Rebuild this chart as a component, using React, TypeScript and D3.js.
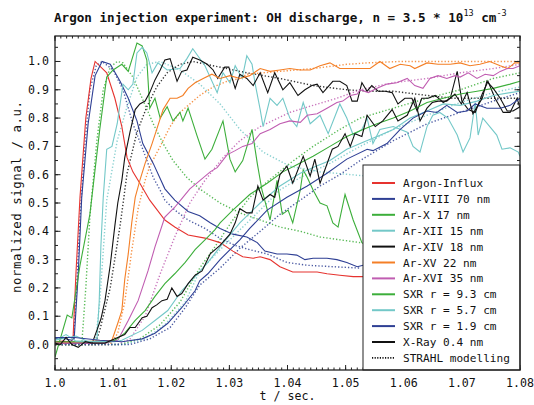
import * as d3 from "d3";

type Pt = [number, number];

// measured signals (t in s, normalized value)
const argonInflux: Pt[] = [
  [1.0, 0.01], [1.0014, 0.012], [1.0026, 0.008], [1.0031, 0.02], [1.0036, 0.25], [1.0043, 0.52],
  [1.0053, 0.8], [1.0062, 0.94], [1.0069, 1.0], [1.0089, 0.96], [1.0103, 0.87], [1.0115, 0.77],
  [1.0124, 0.66], [1.0134, 0.61], [1.0146, 0.57], [1.0163, 0.51], [1.0189, 0.44], [1.0206, 0.415],
  [1.0229, 0.387], [1.0258, 0.376], [1.0284, 0.36], [1.0306, 0.33], [1.0323, 0.31], [1.0341, 0.305],
  [1.0353, 0.31], [1.037, 0.3], [1.0387, 0.275], [1.0409, 0.256], [1.0434, 0.256], [1.0451, 0.256],
  [1.0468, 0.25], [1.049, 0.245], [1.0513, 0.24], [1.053, 0.24], [1.056, 0.235],
];
const arVIII: Pt[] = [
  [1.0, 0.02], [1.0014, 0.022], [1.0029, 0.015], [1.0033, 0.02], [1.004, 0.25], [1.0046, 0.52],
  [1.0057, 0.78], [1.0069, 0.95], [1.0081, 1.0], [1.0095, 0.99], [1.0112, 0.93], [1.0126, 0.87],
  [1.0141, 0.79], [1.0151, 0.71], [1.0169, 0.64], [1.0189, 0.55], [1.0206, 0.51], [1.0229, 0.47],
  [1.0249, 0.455], [1.0267, 0.43], [1.0284, 0.41], [1.0306, 0.39], [1.033, 0.38], [1.0348, 0.36],
  [1.0361, 0.33], [1.0382, 0.32], [1.0399, 0.32], [1.0416, 0.316], [1.043, 0.3], [1.0444, 0.305],
  [1.0468, 0.305], [1.0485, 0.3], [1.0502, 0.29], [1.052, 0.275], [1.053, 0.28], [1.056, 0.275],
];
const arX: Pt[] = [
  [1.0, -0.044], [1.0021, 0.104], [1.0029, 0.094], [1.0043, 0.28], [1.006, 0.46], [1.0077, 0.76],
  [1.0089, 0.945], [1.01, 0.97], [1.0115, 0.99], [1.0126, 0.965], [1.0141, 1.065], [1.015, 1.055],
  [1.0158, 1.005], [1.0163, 0.835], [1.0172, 0.87], [1.0181, 0.8], [1.0193, 0.84], [1.0203, 0.79],
  [1.0215, 0.82], [1.022, 0.79], [1.0229, 0.835], [1.0244, 0.74], [1.0258, 0.655], [1.027, 0.69],
  [1.0289, 0.79], [1.0301, 0.655], [1.031, 0.61], [1.0323, 0.65], [1.0339, 0.76], [1.0348, 0.64],
  [1.0356, 0.546], [1.037, 0.44], [1.0382, 0.58], [1.0391, 0.46], [1.0401, 0.475], [1.0409, 0.43],
  [1.0422, 0.546], [1.0427, 0.617], [1.0434, 0.59], [1.0444, 0.546], [1.0456, 0.5], [1.0468, 0.49],
  [1.0478, 0.43], [1.0487, 0.415], [1.0499, 0.53], [1.0513, 0.44], [1.0528, 0.36], [1.055, 0.33],
];
const arXII: Pt[] = [
  [1.0, 0.015], [1.0036, 0.03], [1.0057, 0.01], [1.0072, 0.01], [1.0076, 0.15], [1.0079, 0.35],
  [1.0083, 0.52], [1.0089, 0.69], [1.0098, 0.7], [1.0107, 0.78], [1.0117, 0.92], [1.0126, 0.9],
  [1.0134, 0.92], [1.0141, 1.03], [1.015, 1.05], [1.0158, 1.03], [1.0167, 0.96], [1.0177, 0.995],
  [1.0193, 0.97], [1.0215, 0.975], [1.0227, 1.01], [1.0237, 1.045], [1.0258, 0.985], [1.0279, 0.89],
  [1.0289, 0.96], [1.0301, 0.925], [1.031, 0.985], [1.0322, 0.94], [1.033, 1.02], [1.0339, 0.99],
  [1.0344, 0.925], [1.0353, 0.83], [1.0358, 0.77], [1.037, 0.87], [1.0382, 0.845], [1.0392, 0.87],
  [1.0404, 0.8], [1.0416, 0.77], [1.0427, 0.855], [1.0439, 0.78], [1.0456, 0.81], [1.047, 0.745],
  [1.049, 0.85], [1.0502, 0.8], [1.0513, 0.74], [1.0528, 0.76], [1.0537, 0.8], [1.0547, 0.71],
  [1.0559, 0.76], [1.0582, 0.77], [1.0606, 0.75], [1.0616, 0.7], [1.0628, 0.68], [1.064, 0.77],
  [1.065, 0.81], [1.0662, 0.82], [1.0676, 0.8], [1.0692, 0.74], [1.0702, 0.68], [1.0714, 0.73],
  [1.0723, 0.855], [1.0728, 0.74], [1.0736, 0.8], [1.0748, 0.77], [1.076, 0.74], [1.0769, 0.69],
  [1.0783, 0.695], [1.0797, 0.68], [1.08, 0.665],
];
const arXIV: Pt[] = [
  [1.0, 0.005], [1.0064, 0.005], [1.0072, 0.05], [1.0079, 0.09], [1.0086, 0.155], [1.0095, 0.28],
  [1.0103, 0.42], [1.0108, 0.5], [1.0115, 0.58], [1.012, 0.66], [1.0129, 0.75], [1.0138, 0.83],
  [1.0146, 0.85], [1.0155, 0.86], [1.0163, 0.89], [1.0172, 0.935], [1.0181, 0.97], [1.0189, 1.005],
  [1.0198, 1.01], [1.021, 0.93], [1.0218, 0.965], [1.0227, 0.97], [1.0237, 1.015], [1.0249, 1.005],
  [1.0262, 0.99], [1.0272, 0.97], [1.028, 0.94], [1.0292, 0.98], [1.0299, 0.98], [1.031, 0.905],
  [1.0318, 0.955], [1.033, 0.94], [1.0341, 0.915], [1.0353, 0.96], [1.0366, 0.89], [1.0378, 0.96],
  [1.0392, 0.9], [1.0404, 0.925], [1.0418, 0.88], [1.043, 0.9], [1.0442, 0.915], [1.0451, 0.92],
  [1.0461, 0.89], [1.0478, 0.93], [1.049, 0.93], [1.0502, 0.915], [1.0511, 0.86], [1.052, 0.86],
  [1.0528, 0.925], [1.0537, 0.895], [1.0545, 0.915], [1.0556, 0.895], [1.0568, 0.895], [1.058, 0.89],
  [1.059, 0.85], [1.0602, 0.87], [1.0614, 0.87], [1.0623, 0.825], [1.0631, 0.87], [1.0642, 0.87],
  [1.0654, 0.88], [1.0668, 0.855], [1.068, 0.87], [1.0692, 0.965], [1.07, 0.86], [1.0711, 0.83],
  [1.0723, 0.82], [1.0735, 0.885], [1.0745, 0.93], [1.0757, 0.87], [1.0771, 0.82], [1.0783, 0.82],
  [1.0795, 0.87], [1.08, 0.835],
];
const arXV: Pt[] = [
  [1.0, 0.005], [1.0098, 0.015], [1.0108, 0.075], [1.0115, 0.12], [1.012, 0.23], [1.0126, 0.32],
  [1.0132, 0.43], [1.0138, 0.52], [1.0146, 0.58], [1.0155, 0.64], [1.0167, 0.71], [1.0175, 0.76],
  [1.0186, 0.83], [1.0198, 0.87], [1.021, 0.87], [1.022, 0.88], [1.0229, 0.905], [1.0241, 0.925],
  [1.0255, 0.94], [1.027, 0.955], [1.0284, 0.94], [1.0301, 0.95], [1.0318, 0.94], [1.0335, 0.95],
  [1.0353, 0.975], [1.037, 0.965], [1.0387, 0.97], [1.0404, 0.975], [1.0422, 0.97], [1.0439, 0.97],
  [1.0456, 0.985], [1.0473, 0.995], [1.049, 0.975], [1.0508, 0.975], [1.0525, 0.975], [1.0542, 0.975],
  [1.0559, 1.0], [1.0576, 0.975], [1.0594, 0.99], [1.0611, 0.985], [1.0619, 0.975], [1.064, 0.995],
  [1.0659, 0.99], [1.068, 0.99], [1.0697, 0.995], [1.0714, 0.985], [1.0731, 0.99], [1.0748, 1.0],
  [1.0766, 0.985], [1.0779, 0.975], [1.0791, 0.995], [1.08, 0.995],
];
const arXVI: Pt[] = [
  [1.0, 0.005], [1.0086, 0.005], [1.0108, 0.015], [1.0126, 0.085], [1.0143, 0.155], [1.016, 0.26],
  [1.0172, 0.345], [1.0189, 0.45], [1.0206, 0.485], [1.022, 0.52], [1.0232, 0.55], [1.0244, 0.57],
  [1.0267, 0.61], [1.0279, 0.625], [1.0296, 0.67], [1.031, 0.685], [1.0323, 0.7], [1.0339, 0.71],
  [1.0353, 0.745], [1.037, 0.76], [1.0387, 0.78], [1.0404, 0.79], [1.0422, 0.785], [1.0434, 0.81],
  [1.0451, 0.815], [1.0468, 0.835], [1.0485, 0.855], [1.0495, 0.86], [1.0508, 0.88], [1.052, 0.885],
  [1.0525, 0.9], [1.0539, 0.89], [1.0554, 0.905], [1.0571, 0.92], [1.0588, 0.925], [1.0606, 0.94],
  [1.0619, 0.915], [1.0633, 0.905], [1.0645, 0.94], [1.0659, 0.95], [1.0674, 0.94], [1.0688, 0.95],
  [1.0697, 0.945], [1.0711, 0.96], [1.0726, 0.94], [1.074, 0.955], [1.0754, 0.95], [1.0766, 0.965],
  [1.0778, 0.975], [1.0788, 0.975], [1.08, 0.985],
];
const sxr93: Pt[] = [
  [1.0, 0.01], [1.0095, 0.01], [1.0103, 0.015], [1.012, 0.04], [1.0138, 0.085], [1.0155, 0.12],
  [1.0172, 0.17], [1.0189, 0.215], [1.0206, 0.25], [1.0224, 0.29], [1.0241, 0.335], [1.0258, 0.37],
  [1.0275, 0.405], [1.0284, 0.43], [1.0306, 0.475], [1.0335, 0.53], [1.0365, 0.57], [1.0392, 0.61],
  [1.0416, 0.635], [1.0444, 0.665], [1.0473, 0.7], [1.0502, 0.735], [1.053, 0.76], [1.0554, 0.78],
  [1.0582, 0.8], [1.0611, 0.825], [1.064, 0.855], [1.0668, 0.87], [1.0697, 0.885], [1.0726, 0.895],
  [1.0754, 0.905], [1.0783, 0.92], [1.08, 0.93],
];
const sxr57: Pt[] = [
  [1.0, 0.015], [1.0019, 0.035], [1.0036, 0.012], [1.0103, 0.01], [1.0115, 0.015], [1.015, 0.05],
  [1.0172, 0.085], [1.0194, 0.12], [1.0218, 0.19], [1.0241, 0.24], [1.0263, 0.29], [1.0284, 0.345],
  [1.0318, 0.43], [1.0353, 0.5], [1.0387, 0.56], [1.0422, 0.605], [1.0444, 0.625], [1.0473, 0.65],
  [1.0502, 0.69], [1.053, 0.715], [1.0554, 0.735], [1.0582, 0.76], [1.0611, 0.8], [1.064, 0.825],
  [1.0668, 0.85], [1.0697, 0.845], [1.0726, 0.86], [1.0754, 0.88], [1.0783, 0.89], [1.08, 0.895],
];
const sxr19: Pt[] = [
  [1.0, 0.025], [1.0034, 0.025], [1.0077, 0.015], [1.0115, 0.01], [1.015, 0.02], [1.0172, 0.04],
  [1.0194, 0.075], [1.0218, 0.13], [1.0241, 0.19], [1.0249, 0.225], [1.0263, 0.25], [1.0284, 0.3],
  [1.0318, 0.37], [1.0335, 0.41], [1.0365, 0.475], [1.0399, 0.52], [1.0434, 0.56], [1.0468, 0.605],
  [1.0502, 0.655], [1.0537, 0.69], [1.0547, 0.685], [1.0571, 0.71], [1.0594, 0.76], [1.0616, 0.8],
  [1.064, 0.825], [1.0657, 0.82], [1.0674, 0.845], [1.0692, 0.82], [1.0709, 0.825], [1.0723, 0.85],
  [1.0743, 0.835], [1.0766, 0.835], [1.0783, 0.845], [1.08, 0.87],
];
const xRay: Pt[] = [
  [1.0, 0.005], [1.0009, 0.0], [1.0019, 0.025], [1.0029, 0.0], [1.004, -0.01], [1.0052, 0.01],
  [1.0064, 0.005], [1.0086, 0.005], [1.0103, 0.02], [1.012, 0.035], [1.0129, 0.06], [1.0138, 0.06],
  [1.015, 0.095], [1.0158, 0.1], [1.0167, 0.13], [1.0175, 0.14], [1.0184, 0.155], [1.0193, 0.16],
  [1.0201, 0.2], [1.021, 0.17], [1.0218, 0.18], [1.0229, 0.215], [1.0241, 0.245], [1.0253, 0.26],
  [1.0267, 0.32], [1.0284, 0.35], [1.0301, 0.39], [1.031, 0.43], [1.0318, 0.48], [1.033, 0.465],
  [1.0339, 0.465], [1.0349, 0.56], [1.0358, 0.51], [1.037, 0.53], [1.0378, 0.52], [1.0387, 0.6],
  [1.0399, 0.63], [1.0409, 0.57], [1.0427, 0.665], [1.0439, 0.595], [1.0447, 0.655], [1.0456, 0.57],
  [1.0477, 0.69], [1.0487, 0.7], [1.0499, 0.745], [1.0508, 0.7], [1.0516, 0.745], [1.0528, 0.735],
  [1.0537, 0.81], [1.0551, 0.77], [1.0564, 0.79], [1.058, 0.83], [1.059, 0.79], [1.0606, 0.81],
  [1.0619, 0.87], [1.0628, 0.79], [1.064, 0.835], [1.0649, 0.855], [1.0659, 0.86], [1.0674, 0.86],
  [1.0688, 0.885], [1.0699, 0.85], [1.0709, 0.89], [1.0719, 0.815], [1.0735, 0.87], [1.0743, 0.93],
  [1.0754, 0.905], [1.0766, 0.87], [1.0778, 0.825], [1.0788, 0.825], [1.08, 0.84],
];

// STRAHL model curves
const arVIIIModel: Pt[] = [
  [1.0, 0.0], [1.0031, 0.0], [1.0036, 0.15], [1.0043, 0.45], [1.0052, 0.72], [1.006, 0.9],
  [1.0071, 0.985], [1.0081, 1.0], [1.01, 0.97], [1.0117, 0.9], [1.0134, 0.78], [1.0151, 0.69],
  [1.0169, 0.59], [1.0181, 0.545], [1.0189, 0.51], [1.0206, 0.475], [1.0229, 0.44], [1.0258, 0.41],
  [1.0284, 0.375], [1.031, 0.35], [1.0335, 0.335], [1.0365, 0.32], [1.0399, 0.29], [1.0434, 0.28],
  [1.0478, 0.275], [1.0525, 0.27],
];
const arXModel: Pt[] = [
  [1.0, 0.0], [1.0046, 0.0], [1.0053, 0.2], [1.006, 0.45], [1.0072, 0.72], [1.0083, 0.9],
  [1.0095, 0.98], [1.0107, 1.0], [1.0117, 0.995], [1.0134, 0.945], [1.0151, 0.865], [1.0169, 0.78],
  [1.0186, 0.71], [1.0203, 0.65], [1.0227, 0.59], [1.0249, 0.55], [1.0284, 0.5], [1.0318, 0.465],
  [1.0353, 0.44], [1.0387, 0.415], [1.0422, 0.4], [1.0456, 0.38], [1.049, 0.37], [1.0525, 0.36],
];
const arXIIModel: Pt[] = [
  [1.0, 0.0], [1.0069, 0.0], [1.0077, 0.15], [1.0089, 0.51], [1.0107, 0.72], [1.0124, 0.84],
  [1.0141, 0.945], [1.0158, 0.99], [1.0181, 1.0], [1.0215, 0.97], [1.0249, 0.92], [1.0284, 0.85],
  [1.0318, 0.76], [1.0358, 0.68], [1.0404, 0.63], [1.0456, 0.61], [1.0537, 0.595],
];
const arXIVModel: Pt[] = [
  [1.0, 0.0], [1.0069, 0.0], [1.0077, 0.05], [1.0095, 0.2], [1.0112, 0.42], [1.0124, 0.605],
  [1.0141, 0.75], [1.0158, 0.84], [1.0175, 0.91], [1.0193, 0.96], [1.0215, 0.99], [1.0237, 1.0],
  [1.0272, 0.985], [1.033, 0.96], [1.0387, 0.94], [1.0444, 0.915], [1.0502, 0.9], [1.0542, 0.895],
  [1.0582, 0.895], [1.064, 0.88], [1.0685, 0.87], [1.0754, 0.87], [1.08, 0.87],
];
const arXVModel: Pt[] = [
  [1.0, 0.0], [1.0095, 0.0], [1.0108, 0.04], [1.012, 0.15], [1.0132, 0.33], [1.0143, 0.48],
  [1.0155, 0.58], [1.0163, 0.63], [1.0181, 0.7], [1.0198, 0.77], [1.0215, 0.82], [1.0232, 0.85],
  [1.0249, 0.88], [1.0272, 0.91], [1.0296, 0.93], [1.0318, 0.94], [1.033, 0.955], [1.0387, 0.965],
  [1.0444, 0.975], [1.0502, 0.99], [1.0537, 0.995], [1.0594, 1.0], [1.0697, 1.0], [1.08, 1.0],
];
const arXVIModel: Pt[] = [
  [1.0, 0.0], [1.0108, 0.0], [1.0129, 0.02], [1.0155, 0.1], [1.0181, 0.25], [1.0206, 0.38],
  [1.0232, 0.5], [1.0258, 0.58], [1.0289, 0.66], [1.0318, 0.72], [1.0353, 0.77], [1.0404, 0.82],
  [1.0444, 0.845], [1.0485, 0.87], [1.0525, 0.9], [1.0582, 0.925], [1.064, 0.94], [1.0697, 0.96],
  [1.0754, 0.975], [1.08, 0.99],
];
const sxr93Model: Pt[] = [
  [1.0, 0.0], [1.0112, 0.0], [1.0146, 0.02], [1.0181, 0.07], [1.0215, 0.15], [1.0249, 0.27],
  [1.0275, 0.345], [1.0306, 0.44], [1.0335, 0.52], [1.0365, 0.575], [1.0404, 0.64], [1.0444, 0.7],
  [1.049, 0.76], [1.0525, 0.8], [1.0582, 0.835], [1.064, 0.87], [1.0697, 0.9], [1.0754, 0.94],
  [1.08, 0.96],
];
const sxr57Model: Pt[] = [
  [1.0, 0.0], [1.012, 0.0], [1.0155, 0.02], [1.0189, 0.07], [1.0224, 0.15], [1.0249, 0.26],
  [1.0284, 0.335], [1.0318, 0.405], [1.0353, 0.475], [1.0387, 0.546], [1.0422, 0.59], [1.0473, 0.64],
  [1.0525, 0.7], [1.0582, 0.76], [1.064, 0.81], [1.0697, 0.855], [1.0754, 0.89], [1.08, 0.91],
];
const sxr19Model: Pt[] = [
  [1.0, 0.0], [1.0129, 0.0], [1.0163, 0.02], [1.0198, 0.06], [1.0224, 0.13], [1.0249, 0.21],
  [1.0284, 0.27], [1.0318, 0.34], [1.0353, 0.4], [1.0387, 0.46], [1.0422, 0.51], [1.0456, 0.56],
  [1.049, 0.6], [1.0525, 0.65], [1.0582, 0.72], [1.064, 0.78], [1.0697, 0.82], [1.0754, 0.86],
  [1.08, 0.89],
];

const RED = "#e6332f";
const DBLUE = "#2e3f94";
const GREEN = "#3cae3a";
const CYAN = "#73c8c8";
const BLACK = "#111111";
const ORANGE = "#f47f26";
const MAGENTA = "#c05db1";

const models = [
  { data: arVIIIModel, color: DBLUE },
  { data: arXModel, color: GREEN },
  { data: arXIIModel, color: CYAN },
  { data: arXIVModel, color: BLACK },
  { data: arXVModel, color: ORANGE },
  { data: arXVIModel, color: MAGENTA },
  { data: sxr93Model, color: GREEN },
  { data: sxr57Model, color: CYAN },
  { data: sxr19Model, color: DBLUE },
];

const series = [
  { name: "Argon-Influx", data: argonInflux, color: RED },
  { name: "Ar-VIII 70 nm", data: arVIII, color: DBLUE },
  { name: "Ar-X 17 nm", data: arX, color: GREEN },
  { name: "Ar-XII 15 nm", data: arXII, color: CYAN },
  { name: "Ar-XIV 18 nm", data: arXIV, color: BLACK },
  { name: "Ar-XV 22 nm", data: arXV, color: ORANGE },
  { name: "Ar-XVI 35 nm", data: arXVI, color: MAGENTA },
  { name: "SXR r = 9.3 cm", data: sxr93, color: GREEN },
  { name: "SXR r = 5.7 cm", data: sxr57, color: CYAN },
  { name: "SXR r = 1.9 cm", data: sxr19, color: DBLUE },
  { name: "X-Ray 0.4 nm", data: xRay, color: BLACK },
];

const width = 534;
const height = 405;
const margin = { top: 36, right: 14, bottom: 35, left: 55 };
const font = "'DejaVu Sans Mono', monospace";

export default function App() {
  const x = d3.scaleLinear().domain([1.0, 1.08]).range([margin.left, width - margin.right]);
  const y = d3.scaleLinear().domain([-0.09, 1.09]).range([height - margin.bottom, margin.top]);
  const line = d3.line<Pt>().x(d => x(d[0])).y(d => y(d[1]));

  const x0 = margin.left, x1 = width - margin.right;
  const y0 = height - margin.bottom, y1 = margin.top;

  const xMinor = d3.range(0, 81).map(i => 1.0 + i * 0.001);
  const xMajor = d3.range(0, 9).map(i => 1.0 + i * 0.01);
  const yMinor = d3.range(-1, 22).map(i => i * 0.05);
  const yMajor = d3.range(0, 11).map(i => i * 0.1);

  const legX = 363, legY = 165, legStep = 15.9;

  return (
    <svg width={width} height={height} style={{ position: "absolute", left: 0, top: 0, background: "#fff" }}>
      <defs>
        <clipPath id="plot">
          <rect x={x0} y={y1} width={x1 - x0} height={y0 - y1} />
        </clipPath>
      </defs>
      <rect width={width} height={height} fill="#fff" />

      <text x={54} y={22} fontFamily={font} fontSize={12.6} fontWeight="bold" fill="#111">
        Argon injection experiment: OH discharge, n = 3.5 * 10
        <tspan dy={-6} fontSize={8.5} fontWeight="normal">13</tspan>
        <tspan dy={6}> cm</tspan>
        <tspan dy={-6} fontSize={8.5} fontWeight="normal">-3</tspan>
      </text>

      <g clipPath="url(#plot)">
        {models.map((m, i) => (
          <path key={"m" + i} d={line(m.data) || ""} fill="none" stroke={m.color}
            strokeOpacity={0.85} strokeWidth={1.4} strokeDasharray="1.3 2" />
        ))}
        {series.map(s => (
          <path key={s.name} d={line(s.data) || ""} fill="none" stroke={s.color} strokeWidth={1.1} />
        ))}
      </g>

      {/* ticks */}
      <g stroke="#222" strokeWidth={1}>
        {xMinor.map((t, i) => (
          <g key={"xm" + i}>
            <line x1={x(t)} x2={x(t)} y1={y0} y2={y0 - 2.5} />
            <line x1={x(t)} x2={x(t)} y1={y1} y2={y1 + 2.5} />
          </g>
        ))}
        {xMajor.map((t, i) => (
          <g key={"xM" + i}>
            <line x1={x(t)} x2={x(t)} y1={y0} y2={y0 - 5} />
            <line x1={x(t)} x2={x(t)} y1={y1} y2={y1 + 5} />
          </g>
        ))}
        {yMinor.map((v, i) => (
          <g key={"ym" + i}>
            <line x1={x0} x2={x0 + 3} y1={y(v)} y2={y(v)} />
            <line x1={x1} x2={x1 - 3} y1={y(v)} y2={y(v)} />
          </g>
        ))}
        {yMajor.map((v, i) => (
          <g key={"yM" + i}>
            <line x1={x0} x2={x0 + 5.5} y1={y(v)} y2={y(v)} />
            <line x1={x1} x2={x1 - 5.5} y1={y(v)} y2={y(v)} />
          </g>
        ))}
      </g>

      {/* legend */}
      <rect x={legX} y={legY} width={x1 - legX} height={y0 - legY} fill="#fff" stroke="#222" strokeWidth={1} />
      {series.map((s, i) => (
        <g key={"lg" + i} transform={`translate(0,${legY + 18 + i * legStep})`}>
          <line x1={372} x2={395} y1={0} y2={0} stroke={s.color} strokeWidth={2} />
          <text x={403} y={4} fontFamily={font} fontSize={11.1} fill="#111">{s.name}</text>
        </g>
      ))}
      <g transform={`translate(0,${legY + 18 + 11 * legStep})`}>
        <line x1={372} x2={395} y1={0} y2={0} stroke={BLACK} strokeWidth={1.6} strokeDasharray="1.2 1.4" />
        <text x={403} y={4} fontFamily={font} fontSize={11.1} fill="#111">STRAHL modelling</text>
      </g>

      <rect x={x0} y={y1} width={x1 - x0} height={y0 - y1} fill="none" stroke="#222" strokeWidth={1.3} />

      {/* tick labels */}
      {xMajor.map((t, i) => (
        <text key={"xl" + i} x={x(t)} y={387} textAnchor="middle" fontFamily={font} fontSize={11.6} fill="#111">
          {d3.format(i === 0 ? ".1f" : ".2f")(t)}
        </text>
      ))}
      {yMajor.map((v, i) => (
        <text key={"yl" + i} x={49} y={y(v) + 4} textAnchor="end" fontFamily={font} fontSize={11.6} fill="#111">
          {d3.format(".1f")(v)}
        </text>
      ))}

      <text x={(x0 + x1) / 2} y={400} textAnchor="middle" fontFamily={font} fontSize={11.6} fill="#111">t / sec.</text>
      <text transform={`translate(21,${(y0 + y1) / 2 - 6}) rotate(-90)`} textAnchor="middle" fontFamily={font}
        fontSize={12.4} fill="#111" textLength={192}>normalized signal / a.u.</text>
    </svg>
  );
}
